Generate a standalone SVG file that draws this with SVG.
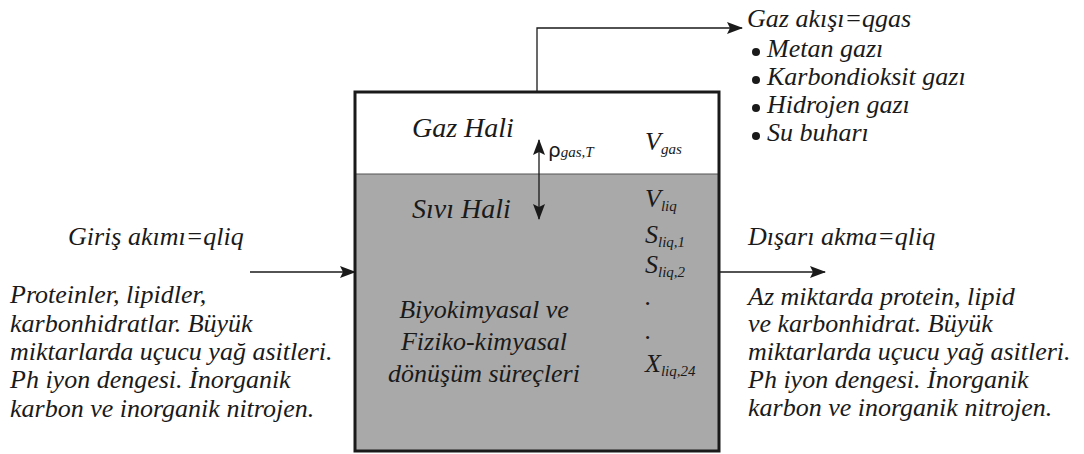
<svg xmlns="http://www.w3.org/2000/svg" width="1084" height="454" viewBox="0 0 1084 454">
  <style>
    .t, .big, .sub { font-family: 'Liberation Serif', 'DejaVu Serif', serif; font-style: italic; fill: #1a1a1a; }
    .t { font-size: 26px; }
    .big { font-size: 28px; }
    .sub { font-size: 15px; }
    .wire { fill: none; stroke: #1a1a1a; stroke-width: 1.3; }
  </style>
  <defs>
    <marker id="arrow" viewBox="0 0 16 12" refX="15" refY="6" markerWidth="16" markerHeight="12" markerUnits="userSpaceOnUse" orient="auto-start-reverse">
      <path d="M0,0 L16,6 L0,12 L3,6 Z" fill="#1a1a1a"/>
    </marker>
  </defs>
  <rect width="1084" height="454" fill="#ffffff"/>

  <!-- reactor vessel -->
  <g id="reactor" font-family="Liberation Serif, serif">
    <rect x="355" y="174" width="364" height="277" fill="#a9a9a9"/>
    <line x1="355" y1="174" x2="719" y2="174" stroke="#555" stroke-width="1.2"/>
    <rect x="355" y="92" width="364" height="359" fill="none" stroke="#1a1a1a" stroke-width="3"/>
    <text class="big" x="412" y="137">Gaz Hali</text>
    <text class="big" x="412" y="218">Sıvı Hali</text>
    <text x="548" y="157" font-family="DejaVu Sans, sans-serif" font-size="20" fill="#1a1a1a">ρ<tspan class="sub">gas,T</tspan></text>
    <text class="t" x="645" y="150">V<tspan class="sub" dy="4">gas</tspan></text>
    <text class="t" x="645" y="207">V<tspan class="sub" dy="4">liq</tspan></text>
    <text class="t" x="645" y="243">S<tspan class="sub" dy="4">liq,1</tspan></text>
    <text class="t" x="645" y="273">S<tspan class="sub" dy="4">liq,2</tspan></text>
    <text class="t" x="645" y="305">.</text>
    <text class="t" x="645" y="339">.</text>
    <text class="t" x="645" y="372">X<tspan class="sub" dy="4">liq,24</tspan></text>
    <text class="t" text-anchor="middle" x="484" y="318">Biyokimyasal ve</text>
    <text class="t" text-anchor="middle" x="484" y="350">Fiziko-kimyasal</text>
    <text class="t" text-anchor="middle" x="484" y="382">dönüşüm süreçleri</text>
  </g>

  <!-- inflow description -->
  <g id="inflow">
    <text class="t" x="68" y="245">Giriş akımı=qliq</text>
    <text class="t" x="10" y="303">Proteinler, lipidler,</text>
    <text class="t" x="10" y="332">karbonhidratlar. Büyük</text>
    <text class="t" x="10" y="360">miktarlarda uçucu yağ asitleri.</text>
    <text class="t" x="10" y="388">Ph iyon dengesi. İnorganik</text>
    <text class="t" x="10" y="417">karbon ve inorganik nitrojen.</text>
  </g>

  <!-- outflow description -->
  <g id="outflow">
    <text class="t" x="748" y="245">Dışarı akma=qliq</text>
    <text class="t" x="748" y="305">Az miktarda protein, lipid</text>
    <text class="t" x="748" y="332">ve karbonhidrat. Büyük</text>
    <text class="t" x="748" y="360">miktarlarda uçucu yağ asitleri.</text>
    <text class="t" x="748" y="388">Ph iyon dengesi. İnorganik</text>
    <text class="t" x="748" y="416">karbon ve inorganik nitrojen.</text>
  </g>

  <!-- gas outlet description -->
  <g id="gasflow">
    <text class="t" x="747" y="27">Gaz akışı=qgas</text>
    <circle cx="756" cy="52" r="4" fill="#1a1a1a"/>
    <text class="t" x="767" y="57">Metan gazı</text>
    <circle cx="756" cy="80" r="4" fill="#1a1a1a"/>
    <text class="t" x="767" y="85">Karbondioksit gazı</text>
    <circle cx="756" cy="108" r="4" fill="#1a1a1a"/>
    <text class="t" x="767" y="113">Hidrojen gazı</text>
    <circle cx="756" cy="136" r="4" fill="#1a1a1a"/>
    <text class="t" x="767" y="141">Su buharı</text>
  </g>

  <!-- connectors -->
  <g id="connectors">
    <line class="wire" x1="250" y1="272" x2="355" y2="272" marker-end="url(#arrow)"/>
    <line class="wire" x1="719" y1="272" x2="825" y2="272" marker-end="url(#arrow)"/>
    <polyline class="wire" points="537,92 537,28 742,28" marker-end="url(#arrow)"/>
    <line class="wire" x1="539" y1="140" x2="539" y2="219" marker-start="url(#arrow)" marker-end="url(#arrow)"/>
  </g>
</svg>
